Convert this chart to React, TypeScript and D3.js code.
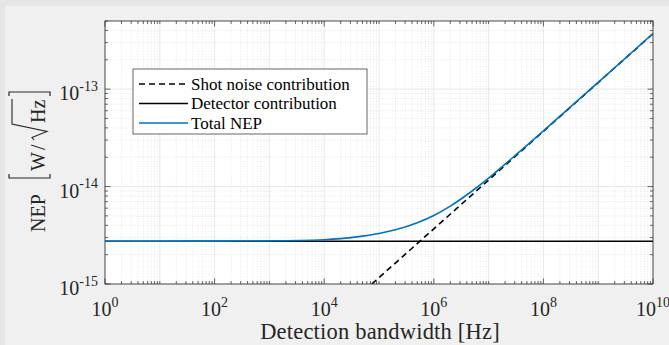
import React from 'react';
import * as d3 from 'd3';

// values
const BANDWIDTH = [
  1e0, 1e1, 1e2, 1e3, 1e4, 2e4, 5e4, 1e5, 2e5, 5e5, 1e6, 2e6, 5e6, 1e7, 2e7, 5e7, 1e8, 1e9, 1e10,
];
const TOTAL_NEP = [
  2.75e-15, 2.75e-15, 2.755e-15, 2.77e-15, 2.85e-15, 2.92e-15, 3.1e-15, 3.3e-15, 3.6e-15,
  4.25e-15, 5.05e-15, 6.3e-15, 9.0e-15, 1.22e-14, 1.7e-14, 2.64e-14, 3.72e-14, 1.17e-13, 3.72e-13,
];
const SHOT_BW = [7.4e4, 1e10];
const SHOT_NEP = [1e-15, 3.7e-13];
const DETECTOR_BW = [1e0, 1e10];
const DETECTOR_NEP = [2.75e-15, 2.75e-15];

const X_LABELS = [0, 2, 4, 6, 8, 10];
const Y_LABELS = [-15, -14, -13];
const LEGEND = ['Shot noise contribution', 'Detector contribution', 'Total NEP'];

const W = 669;
const H = 345;
const M = { left: 105, right: 653, top: 21, bottom: 284 };
const INK = '#262626';
const BLUE = '#0072BD';
const SERIF = '"Liberation Serif", "DejaVu Serif", serif';

const App: React.FC = () => {
  const x = d3.scaleLog().domain([1, 1e10]).range([M.left, M.right]);
  const y = d3.scaleLog().domain([1e-15, 5e-13]).range([M.bottom, M.top]);

  const line = d3.line<[number, number]>()
    .x(d => x(d[0]))
    .y(d => y(d[1]))
    .curve(d3.curveMonotoneX);

  const zip = (a: number[], b: number[]) => a.map((v, i) => [v, b[i]] as [number, number]);

  // tick positions
  const xMajor = X_LABELS.map(e => Math.pow(10, e));
  const xMinor: number[] = [];
  for (let d = 0; d < 10; d++) {
    for (let k = 1; k <= 9; k++) {
      if (k === 1 && d % 2 === 0) continue;
      xMinor.push(k * Math.pow(10, d));
    }
  }
  const xDecades = d3.range(0, 11).map(e => Math.pow(10, e));
  const xGridMinor: number[] = [];
  for (let d = 0; d < 10; d++) for (let k = 2; k <= 9; k++) xGridMinor.push(k * Math.pow(10, d));

  const yMajor = Y_LABELS.map(e => Math.pow(10, e));
  const yMinor: number[] = [];
  for (let d = -15; d < -12; d++) {
    for (let k = 2; k <= 9; k++) {
      const v = k * Math.pow(10, d);
      if (v <= 5e-13 * 1.0001) yMinor.push(v);
    }
  }

  const majLen = 5.5;
  const minLen = 3;

  return (
    <svg width={W} height={H} style={{ position: 'absolute', left: 0, top: 0, fontFamily: SERIF }}>
      <rect x={0} y={0} width={W} height={H} fill="#e6e6e6" />
      <rect x={5} y={6} width={W - 5} height={H - 6} fill="#f0f0f0" />

      <defs>
        <clipPath id="plotClip">
          <rect x={M.left} y={M.top} width={M.right - M.left} height={M.bottom - M.top} />
        </clipPath>
      </defs>

      <rect x={M.left} y={M.top} width={M.right - M.left} height={M.bottom - M.top} fill="#fff" />

      {/* grid */}
      <g>
        {xGridMinor.map((v, i) => (
          <line key={`xg${i}`} x1={x(v)} x2={x(v)} y1={M.top} y2={M.bottom}
            stroke="#dadada" strokeWidth={0.6} strokeDasharray="1,1.5" />
        ))}
        {yMinor.map((v, i) => (
          <line key={`yg${i}`} x1={M.left} x2={M.right} y1={y(v)} y2={y(v)}
            stroke="#dadada" strokeWidth={0.6} strokeDasharray="1,1.5" />
        ))}
        {xDecades.map((v, i) => (
          <line key={`xG${i}`} x1={x(v)} x2={x(v)} y1={M.top} y2={M.bottom}
            stroke="#e0e0e0" strokeWidth={0.7} />
        ))}
        {yMajor.map((v, i) => (
          <line key={`yG${i}`} x1={M.left} x2={M.right} y1={y(v)} y2={y(v)}
            stroke="#e0e0e0" strokeWidth={0.7} />
        ))}
      </g>

      {/* series */}
      <g clipPath="url(#plotClip)" fill="none">
        <path d={line(zip(SHOT_BW, SHOT_NEP)) || ''} stroke="#000" strokeWidth={1.6} strokeDasharray="6,4" />
        <path d={line(zip(DETECTOR_BW, DETECTOR_NEP)) || ''} stroke="#000" strokeWidth={1.5} />
        <path d={line(zip(BANDWIDTH, TOTAL_NEP)) || ''} stroke={BLUE} strokeWidth={1.6} />
      </g>

      {/* ticks */}
      <g stroke={INK} strokeWidth={0.7}>
        {xMajor.map((v, i) => (
          <g key={`xt${i}`}>
            <line x1={x(v)} x2={x(v)} y1={M.bottom} y2={M.bottom - majLen} />
            <line x1={x(v)} x2={x(v)} y1={M.top} y2={M.top + majLen} />
          </g>
        ))}
        {xMinor.map((v, i) => (
          <g key={`xm${i}`}>
            <line x1={x(v)} x2={x(v)} y1={M.bottom} y2={M.bottom - minLen} />
            <line x1={x(v)} x2={x(v)} y1={M.top} y2={M.top + minLen} />
          </g>
        ))}
        {yMajor.map((v, i) => (
          <g key={`yt${i}`}>
            <line x1={M.left} x2={M.left + majLen} y1={y(v)} y2={y(v)} />
            <line x1={M.right} x2={M.right - majLen} y1={y(v)} y2={y(v)} />
          </g>
        ))}
        {yMinor.map((v, i) => (
          <g key={`ym${i}`}>
            <line x1={M.left} x2={M.left + minLen} y1={y(v)} y2={y(v)} />
            <line x1={M.right} x2={M.right - minLen} y1={y(v)} y2={y(v)} />
          </g>
        ))}
      </g>
      <rect x={M.left} y={M.top} width={M.right - M.left} height={M.bottom - M.top}
        fill="none" stroke={INK} strokeWidth={0.8} />

      {/* tick labels */}
      <g fill={INK} style={{ fontFamily: SERIF }}>
        {X_LABELS.map(e => (
          <text key={`xl${e}`} x={x(Math.pow(10, e))} y={M.bottom + 32} fontSize={20} textAnchor="middle">
            10<tspan fontSize={14} dy={-9.5}>{e}</tspan>
          </text>
        ))}
        {Y_LABELS.map(e => (
          <text key={`yl${e}`} x={98} y={y(Math.pow(10, e)) + 11} fontSize={20} textAnchor="end">
            10<tspan fontSize={14} dy={-9.5}>{e}</tspan>
          </text>
        ))}
      </g>

      {/* x axis title */}
      <text x={380} y={339} fontSize={22.5} letterSpacing={0.2} textAnchor="middle" fill={INK}
        style={{ fontFamily: SERIF }}>
        Detection bandwidth [Hz]
      </text>

      {/* y axis title: NEP [W/sqrt(Hz)] */}
      <g transform="translate(45,0) rotate(-90)" fill={INK} style={{ fontFamily: SERIF }}>
        <text x={-232} y={0} fontSize={20}>NEP</text>
        <path d="M-174,-36 L-178,-36 L-178,5 L-174,5" fill="none" stroke={INK} strokeWidth={1.2} />
        <text x={-171} y={0} fontSize={20}>W</text>
        <text x={-150} y={0} fontSize={20}>/</text>
        <path d="M-140,-11 L-137.5,-13 L-131.5,2 L-124,-33 L-99,-33" fill="none" stroke={INK} strokeWidth={1.1} />
        <text x={-123} y={0} fontSize={20}>Hz</text>
        <path d="M-96,-36 L-92,-36 L-92,5 L-96,5" fill="none" stroke={INK} strokeWidth={1.2} />
      </g>

      {/* legend */}
      <g style={{ fontFamily: SERIF }}>
        <rect x={133} y={69} width={234} height={65} fill="#fff" stroke={INK} strokeWidth={0.7} />
        {LEGEND.map((label, i) => {
          const ly = 84 + i * 19.5;
          return (
            <g key={label}>
              <line x1={139} x2={188} y1={ly} y2={ly}
                stroke={i === 2 ? BLUE : '#000'}
                strokeWidth={i === 2 ? 1.6 : 1.5}
                strokeDasharray={i === 0 ? '6,4' : undefined} />
              <text x={191} y={ly + 5.5} fontSize={17} fill="#000">{label}</text>
            </g>
          );
        })}
      </g>
    </svg>
  );
};

export default App;
